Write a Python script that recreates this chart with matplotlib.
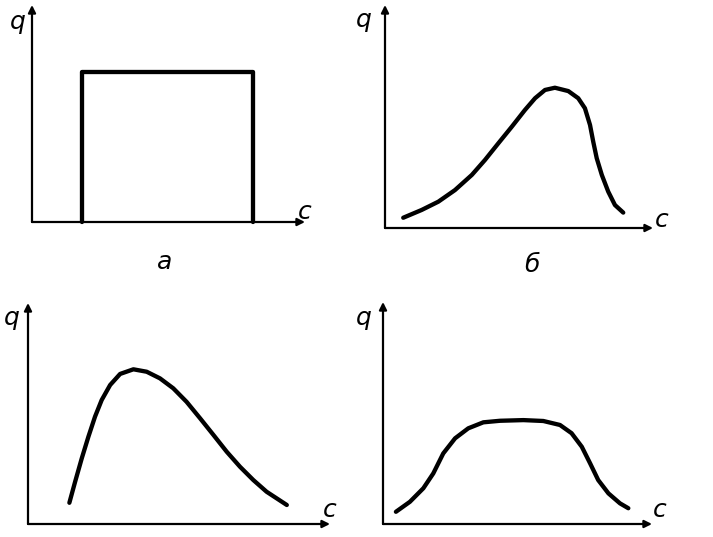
import matplotlib
matplotlib.use("Agg")
import matplotlib.pyplot as plt

W, H = 713, 537

# Panel a: rectangular distribution (c, q in axes-relative units)
a_c = [0.183, 0.183, 0.81, 0.81]
a_q = [0.0, 0.69, 0.69, 0.0]

# Panel б: skewed to the right
b_c = [0.068, 0.137, 0.199, 0.261, 0.324, 0.373, 0.423, 0.473, 0.522, 0.560, 0.597,
       0.634, 0.684, 0.721, 0.746, 0.765, 0.777, 0.790, 0.809, 0.833, 0.858, 0.889]
b_q = [0.046, 0.081, 0.118, 0.170, 0.238, 0.305, 0.380, 0.454, 0.529, 0.582, 0.619,
       0.629, 0.614, 0.582, 0.537, 0.462, 0.387, 0.313, 0.238, 0.163, 0.103, 0.069]

# Panel в: skewed to the left
v_c = [0.137, 0.156, 0.178, 0.200, 0.222, 0.244, 0.272, 0.305, 0.349, 0.393,
       0.437, 0.481, 0.525, 0.570, 0.614, 0.658, 0.702, 0.746, 0.790, 0.857]
v_q = [0.096, 0.191, 0.297, 0.395, 0.486, 0.561, 0.629, 0.679, 0.700, 0.689,
       0.659, 0.614, 0.553, 0.478, 0.403, 0.327, 0.259, 0.199, 0.146, 0.086]

# Panel г: flat-topped
g_c = [0.048, 0.100, 0.150, 0.187, 0.224, 0.268, 0.317, 0.373, 0.435, 0.522,
       0.596, 0.658, 0.701, 0.739, 0.770, 0.800, 0.838, 0.881, 0.912]
g_q = [0.055, 0.100, 0.161, 0.228, 0.318, 0.386, 0.431, 0.458, 0.465, 0.468,
       0.464, 0.446, 0.409, 0.348, 0.273, 0.198, 0.138, 0.093, 0.071]

panels = [
    # (left, bottom, width, height) in px, c, q, q-label pos, c-label pos, panel label
    ((32, 222, 273, 217), a_c, a_q, (18, 22), (305, 212), ("а", (165, 262))),
    ((385, 228, 268, 223), b_c, b_q, (364, 20), (662, 220), ("б", (532, 265))),
    ((28, 524, 302, 221), v_c, v_q, (12, 318), (330, 510), None),
    ((383, 524, 269, 222), g_c, g_q, (364, 318), (660, 510), None),
]

fig = plt.figure(figsize=(W / 100, H / 100), dpi=100)
fig.patch.set_facecolor("white")

def fx(x):
    return x / W

def fy(y):
    return 1 - y / H

for (l, b, w, h), cs, qs, qpos, cpos, plabel in panels:
    ax = fig.add_axes([fx(l), fy(b), w / W, h / H])
    ax.set_xlim(0, 1)
    ax.set_ylim(0, 1)
    ax.axis("off")
    arrow = dict(arrowstyle="-|>", lw=1.6, color="black", mutation_scale=11,
                 shrinkA=0, shrinkB=0)
    ax.annotate("", xy=(0, 1), xytext=(0, 0), xycoords="axes fraction",
                textcoords="axes fraction", arrowprops=arrow)
    ax.annotate("", xy=(1, 0), xytext=(0, 0), xycoords="axes fraction",
                textcoords="axes fraction", arrowprops=arrow)
    ax.plot(cs, qs, color="black", lw=3.1, solid_joinstyle="round",
            solid_capstyle="round", clip_on=False)
    fig.text(fx(qpos[0]), fy(qpos[1]), "q", fontsize=18, style="italic",
             ha="center", va="center")
    fig.text(fx(cpos[0]), fy(cpos[1]), "c", fontsize=18, style="italic",
             ha="center", va="center")
    if plabel:
        fig.text(fx(plabel[1][0]), fy(plabel[1][1]), plabel[0], fontsize=18,
                 style="italic", ha="center", va="center")

fig.savefig("out.png", dpi=100, facecolor="white")
